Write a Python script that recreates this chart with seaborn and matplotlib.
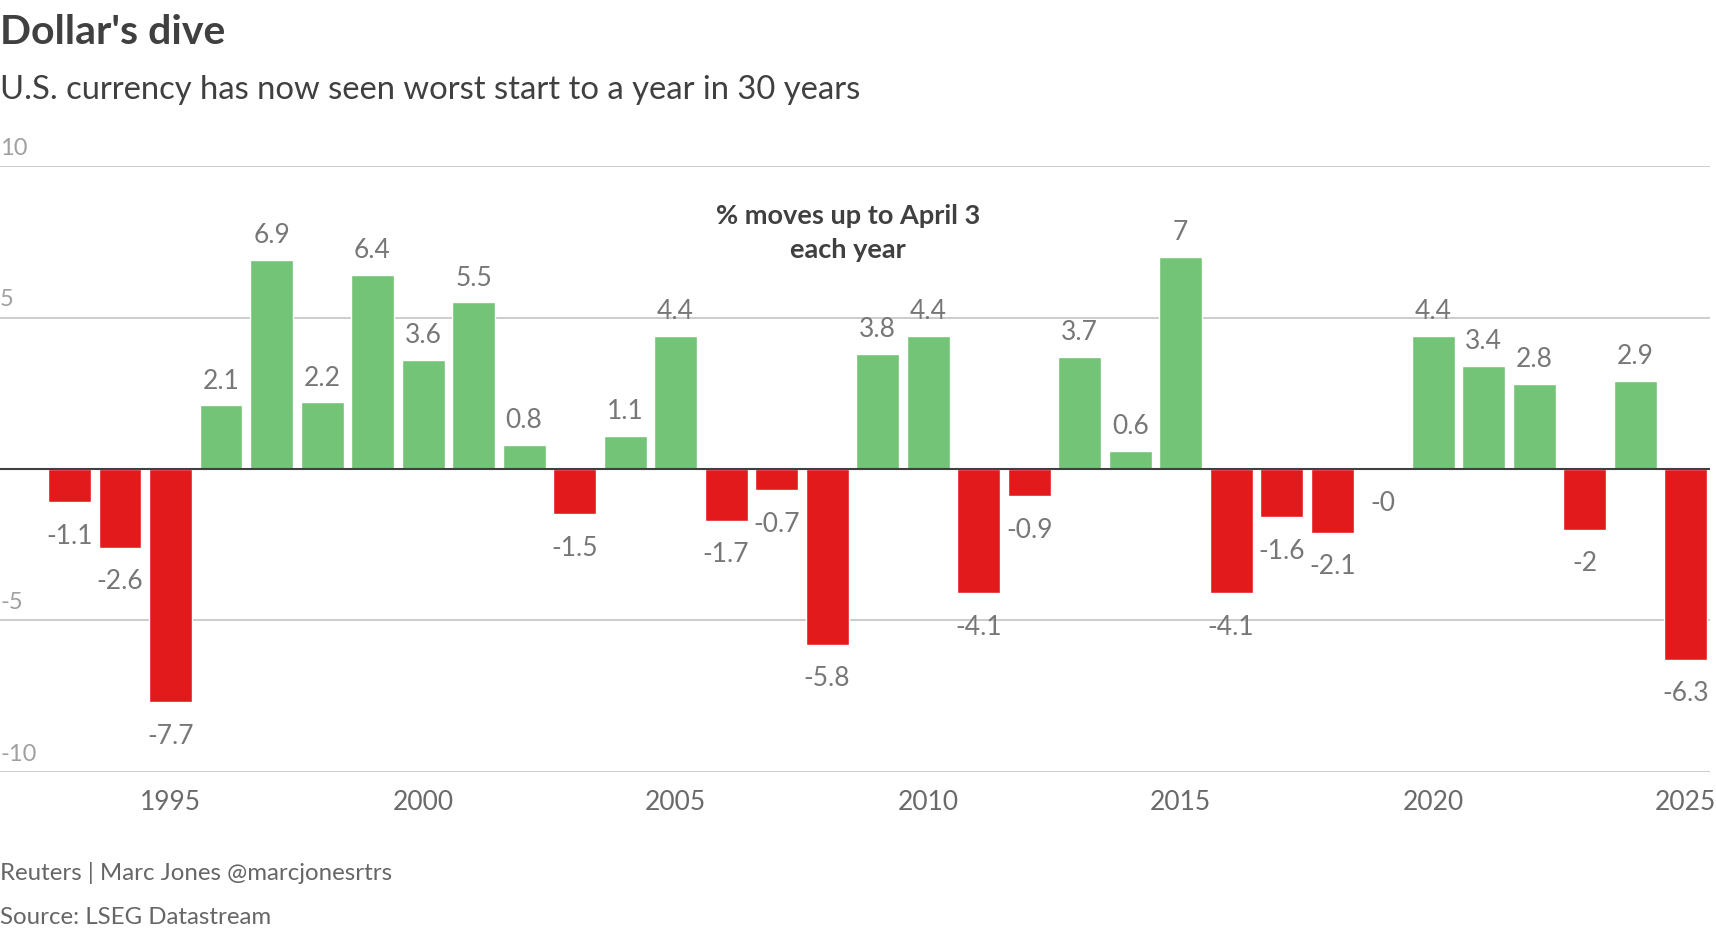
import matplotlib
matplotlib.use('Agg')
import matplotlib.pyplot as plt
import matplotlib.transforms as mtransforms
import seaborn as sns
import pandas as pd

# data
years = list(range(1993, 2026))
moves = [-1.1, -2.6, -7.7, 2.1, 6.9, 2.2, 6.4, 3.6, 5.5, 0.8,
         -1.5, 1.1, 4.4, -1.7, -0.7, -5.8, 3.8, 4.4, -4.1, -0.9,
         3.7, 0.6, 7.0, -4.1, -1.6, -2.1, -0.03, 4.4, 3.4, 2.8,
         -2.0, 2.9, -6.3]
x_ticks = [1995, 2000, 2005, 2010, 2015, 2020, 2025]
y_ticks = [10, 5, -5, -10]

title = "Dollar's dive"
subtitle = "U.S. currency has now seen worst start to a year in 30 years"
note = "% moves up to April 3\neach year"
credit = "Reuters | Marc Jones @marcjonesrtrs"
source = "Source: LSEG Datastream"

GREEN = '#73c476'
RED = '#e31a1c'
DARK = '#404040'

sns.set_theme(style='white')
plt.rcParams['font.family'] = ['Lato', 'DejaVu Sans']

df = pd.DataFrame({'year': years, 'move': moves})
df['dir'] = ['up' if v > 0 else 'down' for v in df['move']]

fig = plt.figure(figsize=(17.16, 9.30), dpi=100)
ax = fig.add_axes([0, 0.1699, 0.9965, 0.6516])

sns.barplot(data=df, x='year', y='move', hue='dir', native_scale=True,
            palette={'up': GREEN, 'down': RED}, width=0.85, legend=False,
            saturation=1, ax=ax)

ax.set_xlim(1991.624, 2025.48)
ax.set_ylim(-10, 10)
sns.despine(ax=ax, left=True, bottom=True)

for t in y_ticks:
    ax.axhline(t, color='#cccccc', lw=1.4, zorder=0)
ax.axhline(0, color=DARK, lw=1.5, zorder=3)

# y labels sit above their gridline, at the left edge
tr = mtransforms.blended_transform_factory(ax.transAxes, ax.transData)
for t in y_ticks:
    ax.annotate(str(t), xy=(0, t), xycoords=tr, xytext=(0, 8),
                textcoords='offset points', ha='left', va='baseline',
                fontsize=17, color='#a0a0a0')
ax.set_yticks([])

ax.set_xticks(x_ticks)
ax.set_xticklabels([str(y) for y in x_ticks])
ax.tick_params(axis='x', length=0, pad=13, labelsize=19, labelcolor='#6a6a6a')
ax.set_xlabel('')
ax.set_ylabel('')


def fmt(v):
    s = f"{v:.1f}"
    if s.endswith('.0'):
        s = s[:-2]
    return s


for yr, v in zip(years, moves):
    if v > 0:
        ax.annotate(fmt(v), xy=(yr, v), xytext=(0, 12), textcoords='offset points',
                    ha='center', va='baseline', fontsize=19, color='#777777')
    else:
        ax.annotate(fmt(v), xy=(yr, v), xytext=(0, -15.5), textcoords='offset points',
                    ha='center', va='top', fontsize=19, color='#777777')

fig.text(0.0, 1 - 44 / 930, title, ha='left', va='baseline', fontsize=29.5,
         fontweight='bold', color=DARK)
fig.text(0.0, 1 - 99 / 930, subtitle, ha='left', va='baseline', fontsize=23.6,
         color=DARK)
fig.text(848 / 1716, 1 - 204 / 930, note, ha='center', va='top', fontsize=19.5,
         fontweight='bold', color=DARK, linespacing=1.5)
fig.text(0.0, 1 - 880 / 930, credit, ha='left', va='baseline', fontsize=17.3,
         color='#666666')
fig.text(0.0, 1 - 924 / 930, source, ha='left', va='baseline', fontsize=17.3,
         color='#666666')

fig.savefig('out.png', dpi=100, facecolor='white')
